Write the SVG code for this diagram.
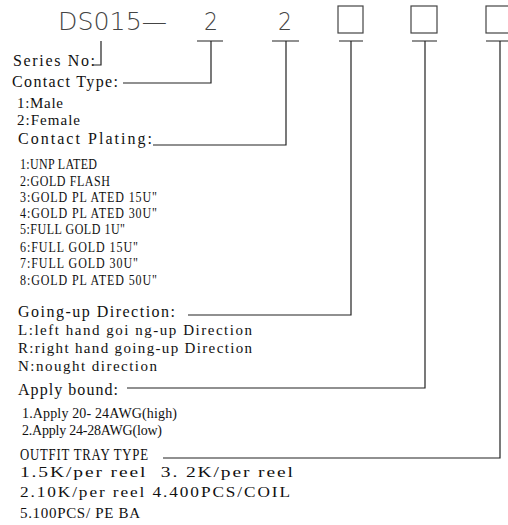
<svg xmlns="http://www.w3.org/2000/svg" width="508" height="525" viewBox="0 0 508 525">
<style>
.big{font-family:"DejaVu Sans","Liberation Sans",sans-serif;font-weight:200;font-size:25px;fill:#444}
.lbl{font-family:"Liberation Serif","Times New Roman",serif;font-size:16px;fill:#111}
.item{font-family:"Liberation Serif","Times New Roman",serif;font-size:15px;fill:#111}
.sm{font-size:14px}
.ln{stroke:#222;stroke-width:1.2;fill:none}
.box{stroke:#444;stroke-width:1.2;fill:none}
</style>
<rect width="508" height="525" fill="#fff"/>
<g id="header">
<text class="big" x="58" y="30" textLength="109" lengthAdjust="spacingAndGlyphs">DS015—</text>
<text class="big" x="211" y="30" text-anchor="middle" textLength="14" lengthAdjust="spacingAndGlyphs">2</text>
<text class="big" x="285" y="30" text-anchor="middle" textLength="14" lengthAdjust="spacingAndGlyphs">2</text>
<rect class="box" x="338" y="6" width="25" height="27"/>
<rect class="box" x="411" y="6" width="26" height="27"/>
<rect class="box" x="486" y="6" width="26" height="27"/>
</g>
<g id="series">
<text class="lbl" x="13" y="66" textLength="82">Series No:</text>
</g>
<g id="contact-type">
<text class="lbl" x="12" y="87" textLength="106">Contact Type:</text>
<text class="item" x="17" y="108" textLength="46">1:Male</text>
<text class="item" x="17" y="125" textLength="63">2:Female</text>
</g>
<g id="contact-plating">
<text class="lbl" x="18" y="144" textLength="134">Contact Plating:</text>
<g transform="scale(0.8 1)">
<text class="item" x="25" y="169" textLength="96.25">1:UNP LATED</text>
<text class="item" x="25" y="186" textLength="112.5">2:GOLD FLASH</text>
<text class="item" x="25" y="202" textLength="171.25">3:GOLD PL ATED 15U"</text>
<text class="item" x="25" y="218" textLength="171.25">4:GOLD PL ATED 30U"</text>
<text class="item" x="25" y="234" textLength="131.25">5:FULL GOLD 1U"</text>
<text class="item" x="25" y="252" textLength="147.5">6:FULL GOLD 15U"</text>
<text class="item" x="25" y="268" textLength="147.5">7:FULL GOLD 30U"</text>
<text class="item" x="25" y="285" textLength="171.25">8:GOLD PL ATED 50U"</text>
</g>
</g>
<g id="going-up">
<text class="lbl" x="18" y="317" textLength="157">Going-up Direction:</text>
<text class="item" x="18" y="335" textLength="234">L:left hand goi ng-up Direction</text>
<text class="item" x="18" y="353" textLength="234">R:right hand going-up Direction</text>
<text class="item" x="18" y="371" textLength="139">N:nought direction</text>
</g>
<g id="apply-bound">
<text class="lbl" x="18" y="395" textLength="100">Apply bound:</text>
<text class="item sm" x="22" y="418" textLength="155">1.Apply 20- 24AWG(high)</text>
<text class="item sm" x="22" y="435" textLength="140">2.Apply 24-28AWG(low)</text>
</g>
<g id="outfit-tray">
<g transform="scale(0.8 1)">
<text class="lbl" x="25" y="460" textLength="160">OUTFIT TRAY TYPE</text>
</g>
<g transform="scale(1.3 1)">
<text class="item" x="15.38" y="477" textLength="210" xml:space="preserve">1.5K/per reel  3. 2K/per reel</text>
</g>
<g transform="scale(1.15 1)">
<text class="item" x="17.39" y="497" textLength="234.8">2.10K/per reel 4.400PCS/COIL</text>
</g>
<text class="item" x="20" y="518" textLength="120">5.100PCS/ PE BA</text>
</g>
<g id="connectors">
<path class="ln" d="M101 41V65H93"/>
<path class="ln" d="M123 83H211V41M197 41H223"/>
<path class="ln" d="M153 145H286V41M272 41H299"/>
<path class="ln" d="M188 315H351V41M339 41H363"/>
<path class="ln" d="M127 388H425V41M412 41H437"/>
<path class="ln" d="M163 458H500V41M486 41H508"/>
</g>
</svg>
